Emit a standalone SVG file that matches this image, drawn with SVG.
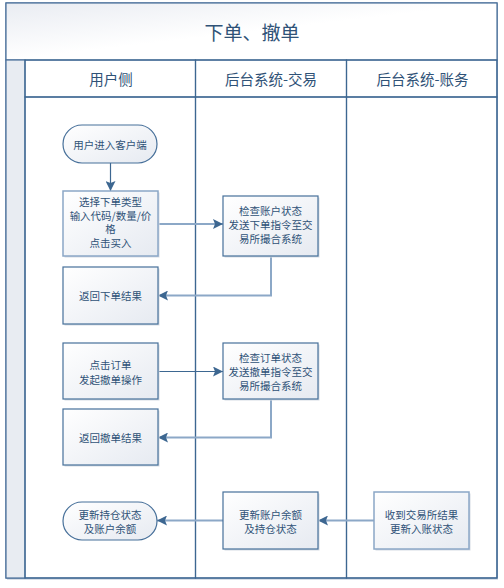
<svg xmlns="http://www.w3.org/2000/svg" width="504" height="588" viewBox="0 0 504 588">
<defs>
<linearGradient id="gBox" x1="0" y1="0" x2="1" y2="1">
<stop offset="0" stop-color="#ffffff"/>
<stop offset="1" stop-color="#e6eaf1"/>
</linearGradient>
<linearGradient id="gHead" x1="0" y1="0" x2="1" y2="1">
<stop offset="0" stop-color="#e9ecf2"/>
<stop offset="0.5" stop-color="#ffffff"/>
<stop offset="1" stop-color="#ffffff"/>
</linearGradient>
<marker id="arr" viewBox="0 0 10 10" refX="10" refY="5" markerWidth="10" markerHeight="10" markerUnits="userSpaceOnUse" orient="auto">
<path d="M0,0 L10,5 L0,10 L2,5 Z" fill="#3d6791"/>
</marker>
</defs>
<style>
.frame{fill:none;stroke:#4a709a;stroke-width:1.2}
.lane{fill:none;stroke:#3d6791;stroke-width:1.2}
.box{fill:url(#gBox);stroke:#47709a;stroke-width:1.2}
.boxl{fill:url(#gBox);stroke:#8ba7c6;stroke-width:1.5}
.shadow{fill:#d5dbe4}
.t{font-family:"Noto Sans CJK SC","Liberation Sans",sans-serif;font-size:10.5px;fill:#2f5277;text-anchor:middle;dominant-baseline:central}
.h{font-family:"Noto Sans CJK SC","Liberation Sans",sans-serif;font-size:14.5px;fill:#2f5277;text-anchor:middle;dominant-baseline:central}
.title{font-family:"Noto Sans CJK SC","Liberation Sans",sans-serif;font-size:19px;fill:#2f5277;text-anchor:middle;dominant-baseline:central}
.cl{fill:none;stroke:#8ca8c7;stroke-width:2;marker-end:url(#arr)}
.cd{fill:none;stroke:#3d6791;stroke-width:1.2;marker-end:url(#arr)}
</style>
<rect x="0" y="0" width="504" height="588" fill="#ffffff"/>
<g id="pool">
<rect x="7" y="4" width="491" height="576" fill="#d9dfe8"/>
<rect x="6" y="3" width="491" height="575" fill="#ffffff" stroke="#4a709a" stroke-width="1.2"/>
<rect x="6" y="3" width="491" height="57" fill="url(#gHead)" stroke="#4a709a" stroke-width="1.2"/>
<text class="title" x="252" y="31">下单、撤单</text>
<rect x="6" y="60" width="19" height="518" fill="#e8ecf2" stroke="#4a709a" stroke-width="1.2"/>
</g>
<g id="lane1">
<rect x="25" y="60" width="170.5" height="37" fill="url(#gHead)" class="lane"/>
<rect x="25" y="97" width="170.5" height="481" class="lane"/>
<text class="h" x="111" y="78">用户侧</text>
</g>
<g id="lane2">
<rect x="195.5" y="60" width="151" height="37" fill="url(#gHead)" class="lane"/>
<rect x="195.5" y="97" width="151" height="481" class="lane"/>
<text class="h" x="271" y="78">后台系统-交易</text>
</g>
<g id="lane3">
<rect x="346.5" y="60" width="150.5" height="37" fill="url(#gHead)" class="lane"/>
<rect x="346.5" y="97" width="150.5" height="481" class="lane"/>
<text class="h" x="422.5" y="78">后台系统-账务</text>
</g>
<g id="connectors">
<path class="cd" d="M110.5,163 L110.5,191"/>
<path class="cl" d="M158,224 L223,224"/>
<path class="cl" d="M271,256 L271,295.5 L158,295.5"/>
<path class="cd" d="M158,371.5 L223,371.5"/>
<path class="cl" d="M271,399 L271,437.5 L158,437.5"/>
<path class="cl" d="M374,520.5 L318,520.5"/>
<path class="cl" d="M223,520.5 L157,520.5"/>
</g>
<g id="n1">
<rect x="63" y="125" width="94" height="38" rx="19" class="box"/>
<text class="t" x="110" y="144.5">用户进入客户端</text>
</g>
<g id="n2">
<rect x="64.5" y="192.5" width="95" height="65" class="shadow"/>
<rect x="63" y="191" width="95" height="65" class="boxl"/>
<text class="t" x="110.5" y="201.5">选择下单类型</text>
<text class="t" x="110.5" y="215">输入代码/数量/价</text>
<text class="t" x="110.5" y="228.5">格</text>
<text class="t" x="110.5" y="242">点击买入</text>
</g>
<g id="n3">
<rect x="224.5" y="197.5" width="95" height="60" class="shadow"/>
<rect x="223" y="196" width="95" height="60" class="box"/>
<text class="t" x="270.5" y="210.5">检查账户状态</text>
<text class="t" x="270.5" y="224.5">发送下单指令至交</text>
<text class="t" x="270.5" y="238">易所撮合系统</text>
</g>
<g id="n4">
<rect x="64.5" y="268.5" width="95" height="57" class="shadow"/>
<rect x="63" y="267" width="95" height="57" class="box"/>
<text class="t" x="110.5" y="295.5">返回下单结果</text>
</g>
<g id="n5">
<rect x="64.5" y="344.5" width="95" height="56" class="shadow"/>
<rect x="63" y="343" width="95" height="56" class="box"/>
<text class="t" x="110.5" y="364">点击订单</text>
<text class="t" x="110.5" y="379">发起撤单操作</text>
</g>
<g id="n6">
<rect x="224.5" y="344.5" width="95" height="56" class="shadow"/>
<rect x="223" y="343" width="95" height="56" class="box"/>
<text class="t" x="270.5" y="357.5">检查订单状态</text>
<text class="t" x="270.5" y="371.5">发送撤单指令至交</text>
<text class="t" x="270.5" y="385">易所撮合系统</text>
</g>
<g id="n7">
<rect x="64.5" y="410.5" width="95" height="56" class="shadow"/>
<rect x="63" y="409" width="95" height="56" class="box"/>
<text class="t" x="110.5" y="437">返回撤单结果</text>
</g>
<g id="n8">
<rect x="63" y="502" width="94" height="38" rx="19" class="box"/>
<text class="t" x="110" y="514">更新持仓状态</text>
<text class="t" x="110" y="528.5">及账户余额</text>
</g>
<g id="n9">
<rect x="224.5" y="493.5" width="95" height="57" class="shadow"/>
<rect x="223" y="492" width="95" height="57" class="box"/>
<text class="t" x="270.5" y="514">更新账户余额</text>
<text class="t" x="270.5" y="528.5">及持仓状态</text>
</g>
<g id="n10">
<rect x="375.5" y="493.5" width="95" height="57" class="shadow"/>
<rect x="374" y="492" width="95" height="57" class="boxl"/>
<text class="t" x="421.5" y="514">收到交易所结果</text>
<text class="t" x="421.5" y="528.5">更新入账状态</text>
</g>
</svg>
